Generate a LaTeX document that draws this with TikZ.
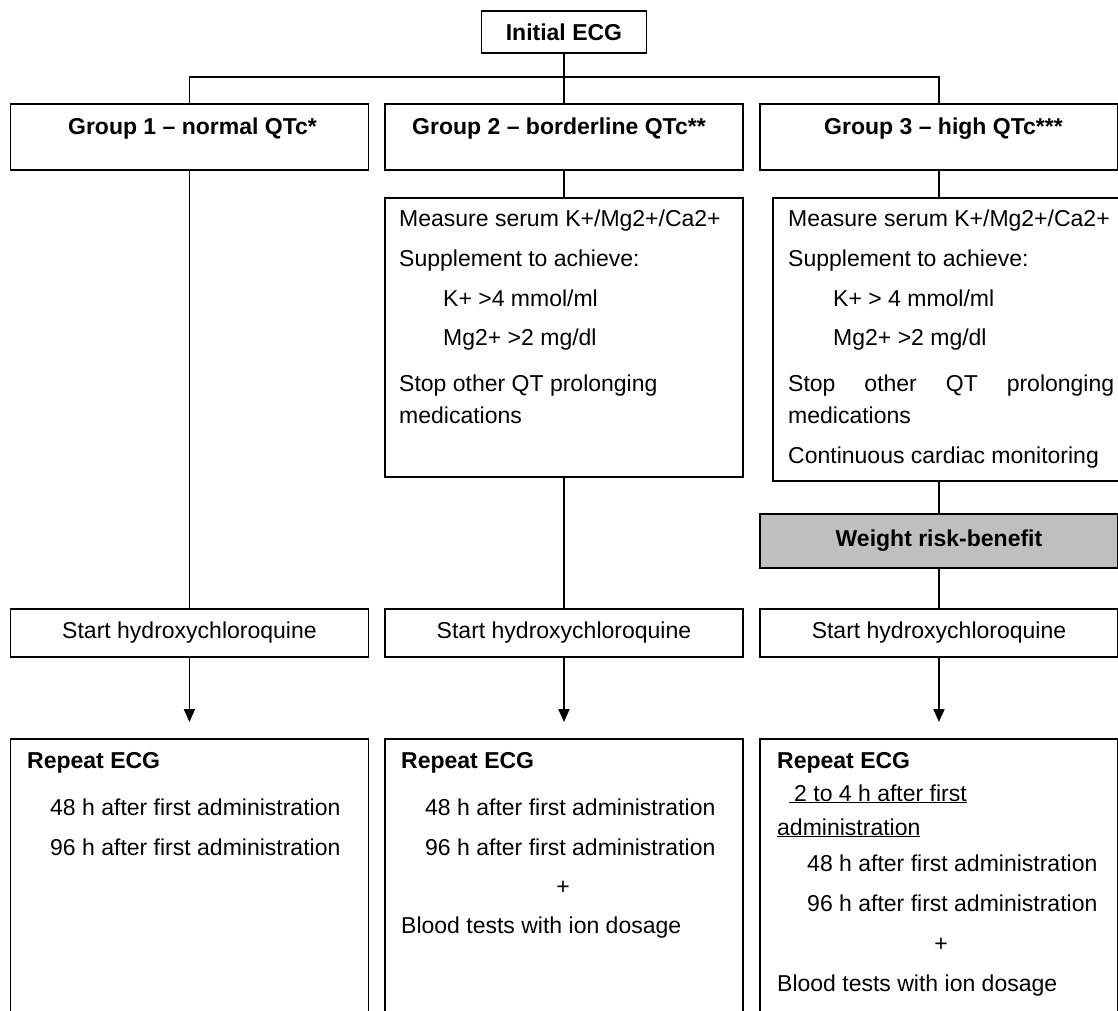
\documentclass[tikz,border=0pt]{standalone}
\usepackage{fontspec}
\setmainfont{Liberation Sans}
\usetikzlibrary{arrows.meta}

\tikzset{
	box/.style={draw, line width=1.9pt, anchor=north west, inner sep=0pt, minimum width=358pt},
	txt/.style={anchor=base west, inner sep=0pt},
	link/.style={line width=1.9pt},
	arr/.style={line width=1.9pt, -{Triangle[length=13pt, width=11pt]}}
}

\begin{document}
\begin{tikzpicture}[x=1pt, y=-1pt, font=\fontsize{23}{28}\selectfont]
	\useasboundingbox (0,0) rectangle (1118,1010);
	\clip (0,0) rectangle (1118,1010);

	\node[box, minimum width=165pt, minimum height=42pt] (init) at (480.5,10) {\textbf{Initial ECG}};
	\foreach \n/\x in {1/9.5, 2/384, 3/759} {
		\node[box, minimum height=66pt] (g\n) at (\x,103) {};
		\node[box, minimum height=48pt] (s\n) at (\x,608) {Start hydroxychloroquine};
		\node[box, minimum height=300pt] (r\n) at (\x,738) {};
	}
	\node[box, minimum height=279pt] (m2) at (384,197) {};
	\node[box, minimum width=362pt, minimum height=283pt] (m3) at (772,197) {};
	\node[box, minimum height=54pt, fill=black!25] (w3) at (759,513) {\textbf{Weight risk-benefit}};

	\coordinate (bus) at (init.south |- 0,77);
	\draw[link] (init.south) -- (bus);
	\draw[link] (g1.north) |- (bus) -| (g3.north);
	\draw[link] (bus) -- (g2.north);
	\draw[link] (g1.south) -- (s1.north);
	\draw[link] (g2.south) -- (m2.north);
	\draw[link] (m2.south) -- (s2.north);
	\draw[link] (g3.south) -- (g3.south |- m3.north);
	\draw[link] (w3.north |- m3.south) -- (w3.north);
	\draw[link] (w3.south) -- (s3.north);
	\foreach \n in {1,2,3}
		\draw[arr] (s\n.south) -- ([yshift=16pt]r\n.north);

	\foreach \n/\x/\t in {1/192.5/{Group 1 – normal QTc*}, 2/559/{Group 2 – borderline QTc**}, 3/943.5/{Group 3 – high QTc***}}
		\node[anchor=base, inner sep=0pt] (h\n) at (\x,134) {\textbf{\t}};

	\node[txt] (m2a) at (399,226) {Measure serum K+/Mg2+/Ca2+};
	\node[txt] (m2b) at (399,266) {Supplement to achieve:};
	\node[txt] (m2c) at (443,306) {K+ >4 mmol/ml};
	\node[txt] (m2d) at (443,345) {Mg2+ >2 mg/dl};
	\node[txt] (m2e) at (399,391) {Stop other QT prolonging};
	\node[txt] (m2f) at (399,423) {medications};

	\node[txt] (m3a) at (788,226) {Measure serum K+/Mg2+/Ca2+};
	\node[txt] (m3b) at (788,266) {Supplement to achieve:};
	\node[txt] (m3c) at (833,306) {K+ > 4 mmol/ml};
	\node[txt] (m3d) at (833,345) {Mg2+ >2 mg/dl};
	\node[txt] (m3e) at (788,391) {\makebox[326pt][s]{Stop other QT prolonging}};
	\node[txt] (m3f) at (788,423) {medications};
	\node[txt] (m3g) at (788,463) {Continuous cardiac monitoring};

	\node[txt] (r1a) at (27,768) {\textbf{Repeat ECG}};
	\node[txt] (r1b) at (50,815) {48 h after first administration};
	\node[txt] (r1c) at (50,855) {96 h after first administration};

	\node[txt] (r2a) at (401,768) {\textbf{Repeat ECG}};
	\node[txt] (r2b) at (425,815) {48 h after first administration};
	\node[txt] (r2c) at (425,855) {96 h after first administration};
	\node[anchor=base, inner sep=0pt] (r2d) at (563,894) {+};
	\node[txt] (r2e) at (401,933) {Blood tests with ion dosage};

	\node[txt] (r3a) at (777,768) {\textbf{Repeat ECG}};
	\node[txt] (r3b) at (789,801) {\underline{\hspace{5pt}2 to 4 h after first}};
	\node[txt] (r3c) at (777,835) {\underline{administration}};
	\node[txt] (r3d) at (807,871) {48 h after first administration};
	\node[txt] (r3e) at (807,911) {96 h after first administration};
	\node[anchor=base, inner sep=0pt] (r3f) at (941,951) {+};
	\node[txt] (r3g) at (777,991) {Blood tests with ion dosage};
\end{tikzpicture}
\end{document}
